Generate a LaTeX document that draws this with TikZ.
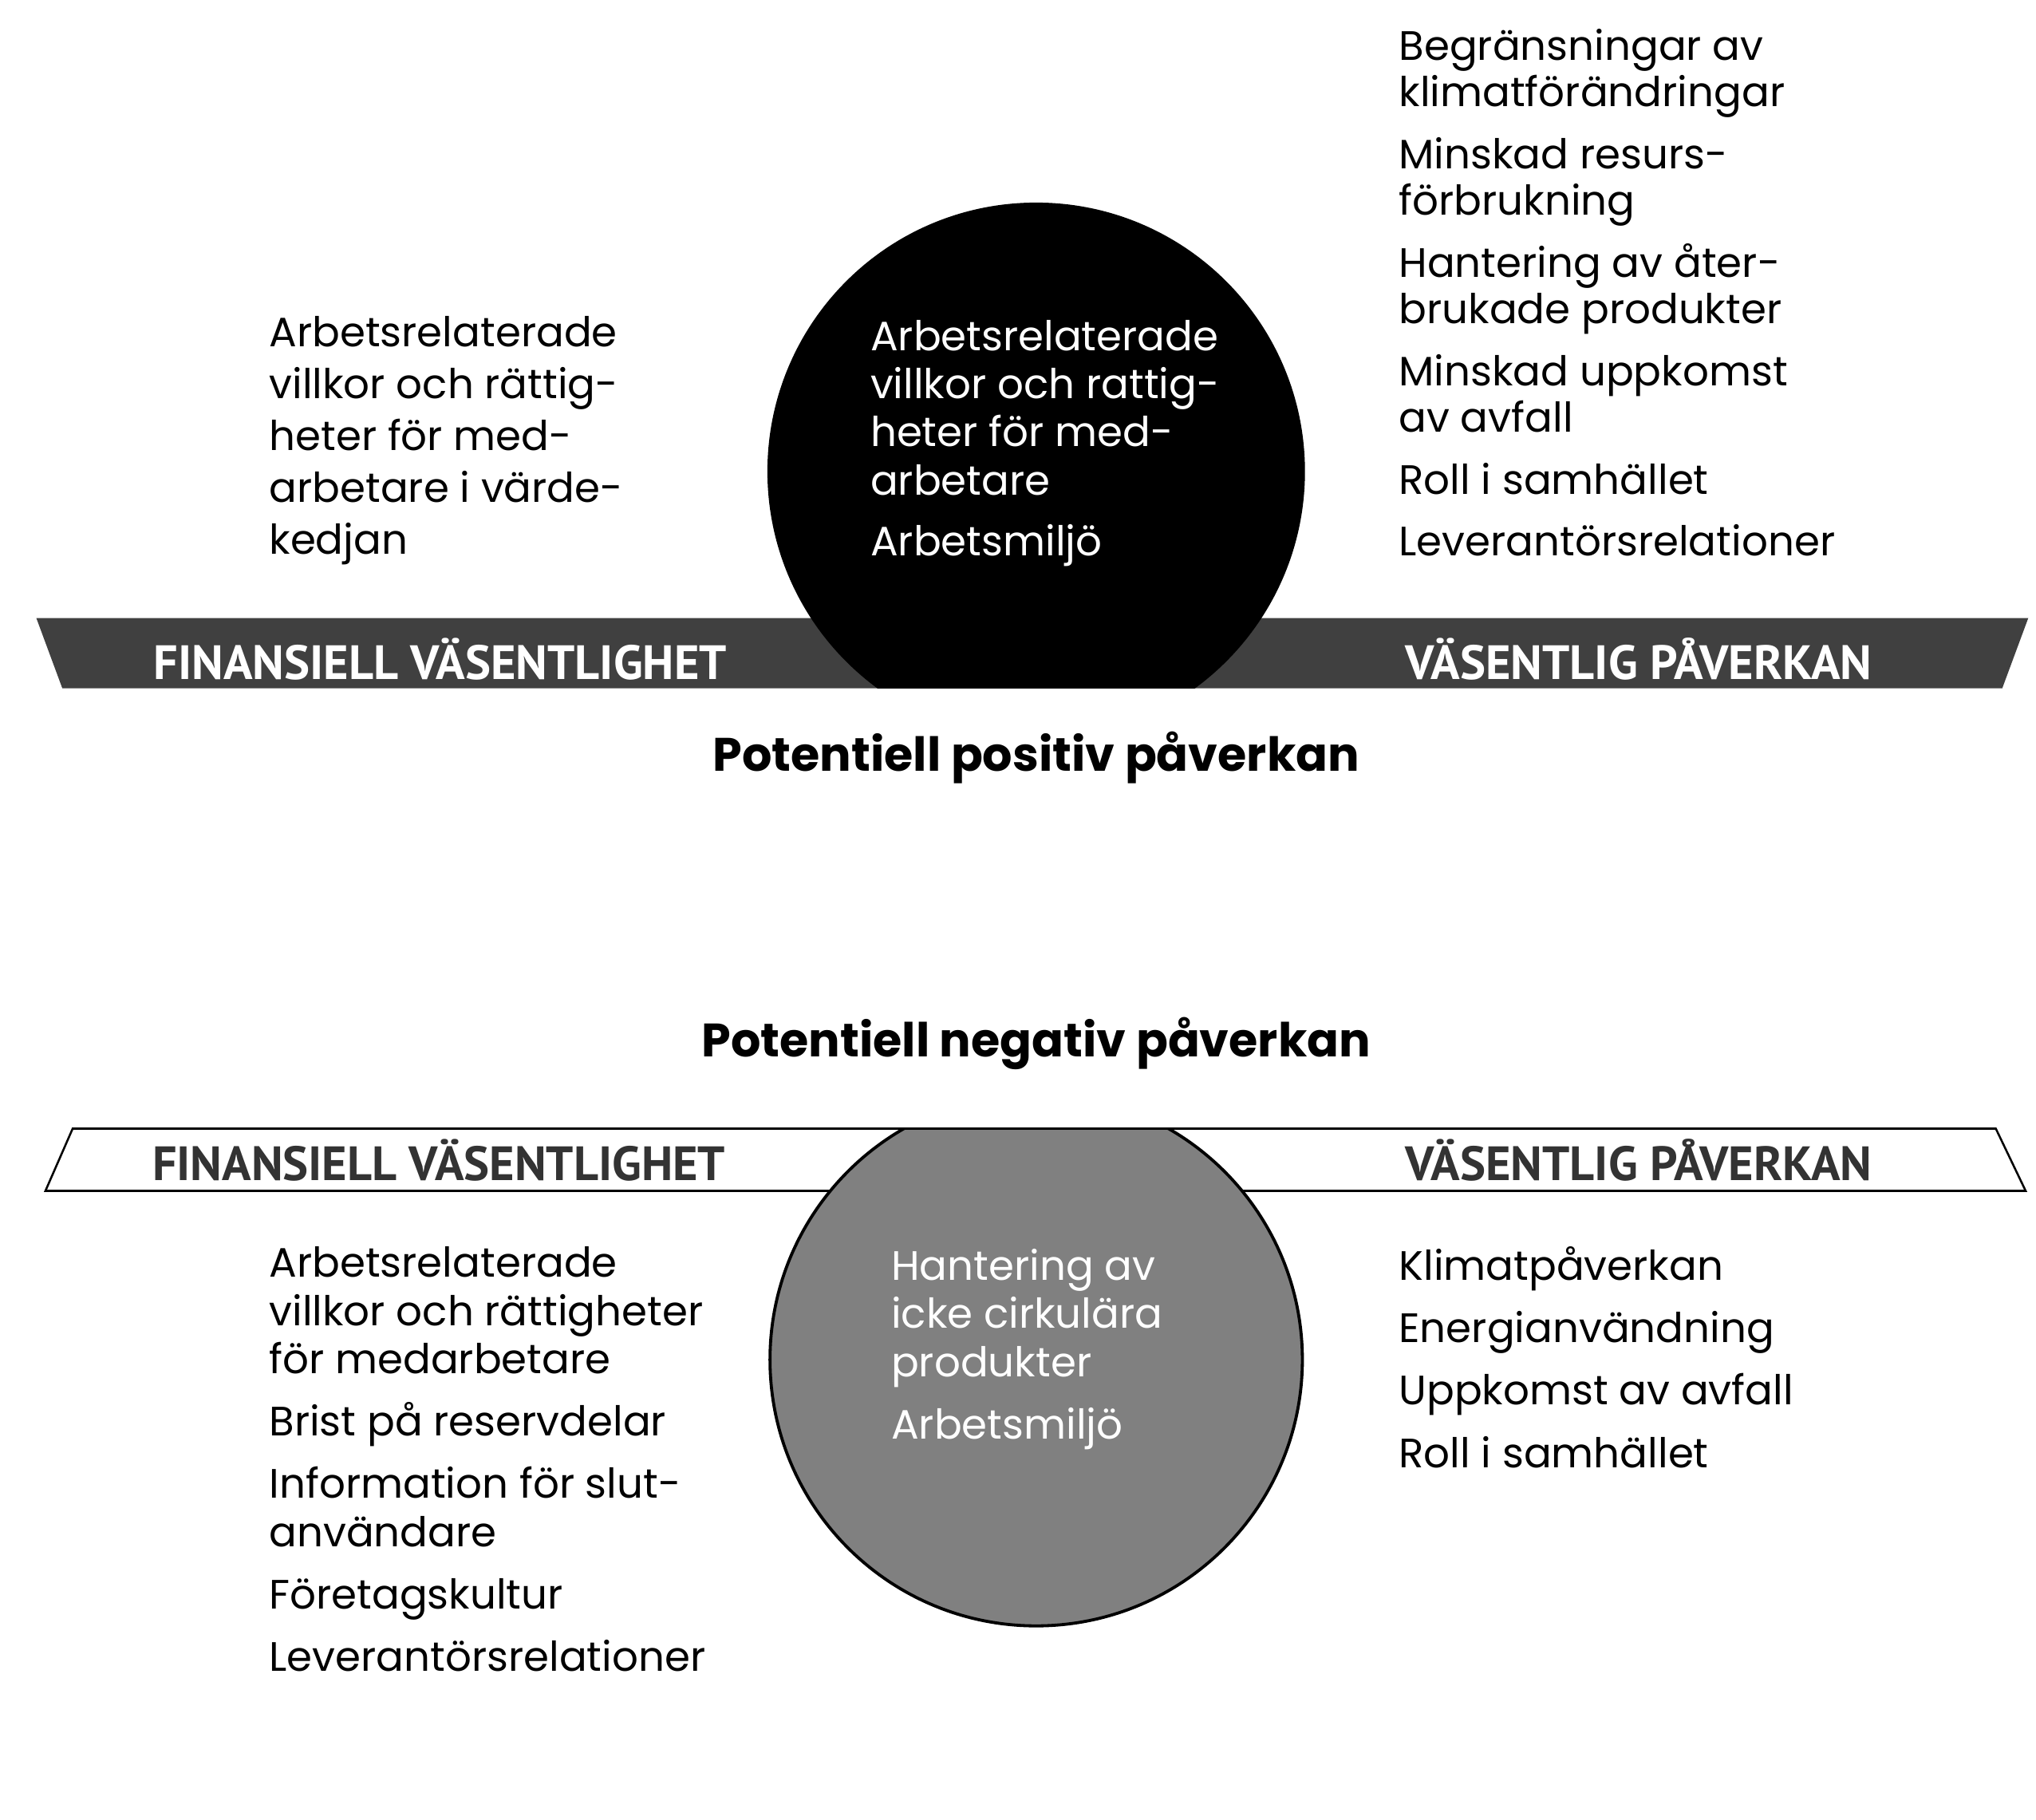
\documentclass[tikz,border=0pt]{standalone}
\usepackage{fontspec}
\setmainfont{Poppins}
\newfontfamily\bandfont{PT Sans}

\begin{document}
\begin{tikzpicture}[scale=1.8,
    item/.style={anchor=base west, align=left, inner sep=0pt, font=\fontsize{16.2}{19}\selectfont},
    head/.style={anchor=base, inner sep=0pt, font=\fontsize{18.5}{22}\selectfont\bfseries},
    bandlabel/.style={anchor=base, inner sep=0pt, font=\bandfont\bfseries\fontsize{19}{22}\selectfont}]
    \useasboundingbox (0,0) rectangle (15.68,-14.01);

    % Upper band and circle
    \fill[black!75] (0.28,-4.76) -- (15.62,-4.76) -- (15.42,-5.30) -- (0.48,-5.30) -- cycle;
    \begin{scope}
        \clip (0,0) rectangle (15.68,-5.30);
        \fill[black] (7.98,-3.63) circle (2.07);
    \end{scope}
    \node[bandlabel, white] (finTop) at (3.39,-5.23) {FINANSIELL VÄSENTLIGHET};
    \node[bandlabel, white] (pavTop) at (12.62,-5.23) {VÄSENTLIG PÅVERKAN};

    % Lower band and circle
    \filldraw[fill=white, draw=black, thick] (0.56,-8.69) -- (15.37,-8.69) -- (15.60,-9.17) -- (0.35,-9.17) -- cycle;
    \begin{scope}
        \clip (0,-8.69) rectangle (15.68,-14.01);
        \filldraw[fill=black!50, draw=black, very thick] (7.98,-10.47) circle (2.05);
    \end{scope}
    \draw[thick] (0.56,-8.69) -- (15.37,-8.69);
    \node[bandlabel, black!80] (finBot) at (3.38,-9.09) {FINANSIELL VÄSENTLIGHET};
    \node[bandlabel, black!80] (pavBot) at (12.62,-9.09) {VÄSENTLIG PÅVERKAN};

    % Headers
    \node[head] (posHead) at (7.98,-5.94) {Potentiell positiv påverkan};
    \node[head] (negHead) at (7.98,-8.14) {Potentiell negativ påverkan};

    % Positive side (anchored at the last line)
    \node[item, font=\fontsize{16.2}{20.5}\selectfont] (posFin) at (2.07,-4.27)
        {Arbetsrelaterade\\villkor och rättig-\\heter för med-\\arbetare i värde-\\kedjan};
    \node[item, white] (posBoth) at (6.70,-4.28)
        {Arbetsrelaterade\\villkor och rattig-\\heter för med-\\arbetare\\[5pt]Arbetsmiljö};
    \node[item, font=\fontsize{16.2}{18.4}\selectfont] (posImp) at (10.77,-4.28)
        {Begränsningar av\\klimatförändringar\\[6pt]Minskad resurs-\\förbrukning\\[6pt]Hantering av åter-\\brukade produkter\\[6pt]Minskad uppkomst\\av avfall\\[6pt]Roll i samhället\\[6pt]Leverantörsrelationer};

    % Negative side (anchored at the last line)
    \node[item] (negFin) at (2.07,-12.87)
        {Arbetsrelaterade\\villkor och rättigheter\\för medarbetare\\[5.6pt]Brist på reservdelar\\[5.6pt]Information för slut-\\användare\\[5.6pt]Företagskultur\\[5.6pt]Leverantörsrelationer};
    \node[item, white] (negBoth) at (6.86,-11.08)
        {Hantering av\\icke cirkulära\\produkter\\[5.6pt]Arbetsmiljö};
    \node[item] (negImp) at (10.77,-11.30)
        {Klimatpåverkan\\[5.6pt]Energianvändning\\[5.6pt]Uppkomst av avfall\\[5.6pt]Roll i samhället};
\end{tikzpicture}
\end{document}
